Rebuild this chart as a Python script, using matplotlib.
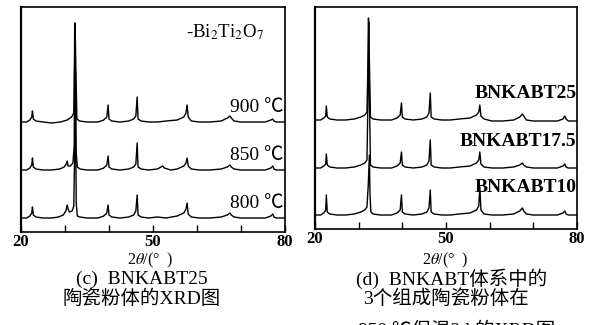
import matplotlib
matplotlib.use('Agg')
from matplotlib import pyplot as plt

plt.rcParams['mathtext.fontset'] = 'stix'
SERIF = ['Liberation Serif', 'Noto Sans CJK SC']

# ---- data: (2theta, intensity above the trace baseline) ----
# panel (c): BNKABT25 powder calcined at three temperatures
c_900 = [(20, 0), (21.3, 0), (22.0, 2), (22.45, 5), (22.6, 11), (22.8, 3), (23.4, 1), (25, 0), (27, -1),
         (29, 0), (30.5, 2), (31.5, 5), (32.0, 9), (32.2, 70), (32.3, 99), (32.4, 70), (32.7, 3), (33.3, 1),
         (35, 0), (37.5, 0), (38.8, 2), (39.5, 5), (39.8, 17), (40.0, 3), (40.6, 1), (42.5, 0), (44.5, 1),
         (45.6, 3), (46.1, 6), (46.4, 25), (46.6, 3), (47.3, 1), (49, 0), (51, 0), (53, 1), (55.5, 2),
         (57.0, 5), (57.5, 9), (57.75, 17), (58.0, 5), (58.7, 1), (60.5, 0), (63, 0), (65.5, 1), (66.9, 4),
         (67.5, 6), (67.8, 4), (68.4, 1), (70, 0), (73, 0), (75.5, 0), (76.8, 2), (77.2, 3), (77.5, 1),
         (78, 0), (80, 0)]
c_850 = [(20, 0), (21.3, 0), (22.0, 2), (22.45, 5), (22.6, 12), (22.8, 3), (23.4, 1), (25, 0), (27, 0),
         (28.8, 1), (29.8, 3), (30.3, 6), (30.5, 9), (30.7, 4), (31.2, 4), (31.8, 7), (32.1, 25), (32.2, 147),
         (32.35, 100), (32.5, 20), (32.8, 3), (33.4, 1), (35, 0), (37.5, 0), (38.8, 2), (39.5, 5), (39.8, 14),
         (40.0, 3), (40.6, 1), (42.5, 0), (44.5, 1), (45.6, 3), (46.1, 6), (46.4, 27), (46.6, 3), (47.3, 1),
         (49, 0), (51, 1), (52.2, 4), (52.6, 2), (54, 0), (55.5, 1), (57.0, 4), (57.5, 7), (57.75, 12),
         (58.0, 4), (58.7, 1), (60.5, 0), (63, 0), (65.5, 1), (66.9, 3), (67.5, 5), (67.8, 3), (68.4, 1),
         (70, 0), (73, 0), (75.5, 0), (76.8, 2), (77.2, 4), (77.5, 1), (78, 0), (80, 0)]
c_800 = [(20, 0), (21.3, 0), (22.0, 2), (22.45, 5), (22.6, 11), (22.8, 3), (23.4, 1), (25, 0), (27, 0),
         (28.5, 1), (29.6, 3), (30.2, 7), (30.5, 13), (30.7, 9), (31.0, 6), (31.6, 7), (32.0, 12), (32.25, 80),
         (32.4, 120), (32.55, 15), (32.8, 2), (33.4, 1), (35, 0), (37.5, 0), (38.8, 2), (39.5, 5), (39.8, 13),
         (40.0, 3), (40.6, 1), (42.5, 0), (44.5, 1), (45.6, 3), (46.1, 7), (46.4, 23), (46.6, 3), (47.3, 1),
         (49, 0), (51, 1), (53, 0), (55.5, 2), (57.0, 5), (57.5, 9), (57.75, 15), (58.0, 4), (58.7, 1),
         (60.5, 0), (63, 0), (65.5, 1), (66.9, 3), (67.5, 5), (67.8, 3), (68.4, 1), (70, 0), (73, 0),
         (75.5, 0), (76.8, 2), (77.2, 4), (77.5, 1), (78, 0), (80, 0)]

# panel (d): three compositions
d_25 = [(20, 0), (21.3, 0), (22.0, 2), (22.45, 4), (22.6, 14), (22.8, 3), (23.4, 1), (25, 0), (27, 0),
        (29, 1), (30.5, 3), (31.4, 5), (31.9, 8), (32.15, 60), (32.3, 98), (32.45, 60), (32.7, 3), (33.3, 1),
        (35, 0), (37.5, 0), (38.8, 2), (39.5, 5), (39.8, 17), (40.0, 3), (40.6, 1), (42.5, 0), (44.5, 1),
        (45.6, 3), (46.1, 7), (46.4, 27), (46.6, 3), (47.3, 1), (49, 0), (51, 0), (53, 1), (55.5, 2),
        (57.0, 5), (57.5, 8), (57.75, 15), (58.0, 4), (58.7, 1), (60.5, -1), (63, -1), (65.5, 0), (66.9, 3),
        (67.5, 6), (67.8, 4), (68.4, 0), (70, -1), (73, -1), (75.5, -1), (76.8, 1), (77.2, 4), (77.5, 1),
        (78, -1), (80, -1)]
d_175 = [(20, 0), (21.3, 0), (22.0, 2), (22.45, 4), (22.6, 14), (22.8, 3), (23.4, 1), (25, 0), (27, 0),
         (29, 1), (30.5, 3), (31.4, 5), (31.9, 8), (32.1, 60), (32.25, 150), (32.4, 90), (32.7, 3), (33.3, 1),
         (35, 0), (37.5, 0), (38.8, 2), (39.5, 5), (39.8, 16), (40.0, 3), (40.6, 1), (42.5, 0), (44.5, 1),
         (45.6, 3), (46.1, 7), (46.4, 28), (46.6, 3), (47.3, 1), (49, 0), (51, 0), (53, 1), (55.5, 2),
         (57.0, 5), (57.5, 8), (57.75, 16), (58.0, 4), (58.7, 1), (60.5, 0), (63, 0), (65.5, 1), (66.9, 3),
         (67.5, 5), (67.8, 3), (68.4, 1), (70, 0), (73, 0), (75.5, 0), (76.8, 2), (77.2, 4), (77.5, 1),
         (78, 0), (80, 0)]
d_10 = [(20, 0), (21.3, 0), (22.0, 2), (22.45, 5), (22.6, 20), (22.8, 3), (23.4, 1), (25, 0), (27, 0),
        (29, 1), (30.5, 3), (31.4, 5), (31.9, 8), (32.2, 30), (32.45, 60), (32.6, 20), (32.8, 3), (33.3, 1),
        (35, 0), (37.5, 0), (38.8, 2), (39.5, 5), (39.8, 20), (40.0, 3), (40.6, 1), (42.5, 0), (44.5, 1),
        (45.6, 3), (46.1, 7), (46.4, 25), (46.6, 3), (47.3, 1), (49, 0), (51, 0), (53, 1), (55.5, 2),
        (57.0, 5), (57.5, 9), (57.75, 28), (58.0, 5), (58.7, 1), (60.5, 0), (63, 0), (65.5, 1), (66.9, 4),
        (67.5, 7), (67.8, 4), (68.4, 1), (70, 0), (73, 0), (75.5, 0), (76.8, 2), (77.2, 4), (77.5, 1),
        (78, 0), (80, 0)]

temp_traces = [c_900, c_850, c_800]
temp_labels = ['900 ℃', '850 ℃', '800 ℃']
temp_offsets = [110, 62, 14]
comp_traces = [d_25, d_175, d_10]
comp_labels = ['BNKABT25', 'BNKABT17.5', 'BNKABT10']
comp_offsets = [109, 61, 14]

xticks = [20, 30, 40, 50, 60, 70, 80]
xticklabels = ['20', '', '', '50', '', '', '80']

W, H = 594, 325
fig = plt.figure(figsize=(W / 100, H / 100), dpi=100)


def px_axes(x0, y0, x1, y1):
    # axes placed by pixel edges of the reference picture
    return fig.add_axes([x0 / W, 1 - y1 / H, (x1 - x0) / W, (y1 - y0) / H])


def fig_text(x, y, s, **kw):
    fig.text(x / W, 1 - y / H, s, ha='center', va='center', family=SERIF, **kw)


def setup(ax, top):
    ax.set_xlim(20, 80)
    ax.set_ylim(0, top)
    ax.set_yticks([])
    ax.set_xticks(xticks)
    ax.set_xticklabels(xticklabels, family=SERIF, fontsize=12, fontweight='bold')
    ax.tick_params(axis='x', direction='in', length=5, width=1, pad=1.5)
    for s in ax.spines.values():
        s.set_linewidth(1.2)
    ax.spines['left'].set_linewidth(1.6)


axc = px_axes(21, 7, 285, 232)
setup(axc, 225)
for tr, lab, off in zip(temp_traces, temp_labels, temp_offsets):
    xs = [p[0] for p in tr]
    ys = [p[1] + off for p in tr]
    axc.plot(xs, ys, color='black', lw=1.0)
    axc.text(79.6, off + 14, lab, ha='right', va='center', family=SERIF, fontsize=14)
axc.text(57.5, 200, '-Bi$_2$Ti$_2$O$_7$', ha='left', va='center', family=SERIF, fontsize=13.5)

axd = px_axes(315, 7, 577, 229)
setup(axd, 222)
for tr, lab, off in zip(comp_traces, comp_labels, comp_offsets):
    xs = [p[0] for p in tr]
    ys = [p[1] + off for p in tr]
    axd.plot(xs, ys, color='black', lw=1.0)
    axd.text(79.9, off + 27, lab, ha='right', va='center', family=SERIF, fontsize=14,
             fontweight='bold')

# axis titles and captions under the panels
fig_text(150, 260, '2$\\theta$/(°  )', fontsize=11.5)
fig_text(445, 260, '2$\\theta$/(°  )', fontsize=11.5)
fig_text(142, 279, '(c)  BNKABT25', fontsize=14)
fig_text(142, 299, '陶瓷粉体的XRD图', fontsize=14)
fig_text(452, 279, '(d)  BNKABT体系中的', fontsize=14)
fig_text(446, 299, '3个组成陶瓷粉体在', fontsize=14)
fig_text(457, 331, '950 ℃保温2 h的XRD图', fontsize=14)

fig.savefig('out.png', dpi=100)
